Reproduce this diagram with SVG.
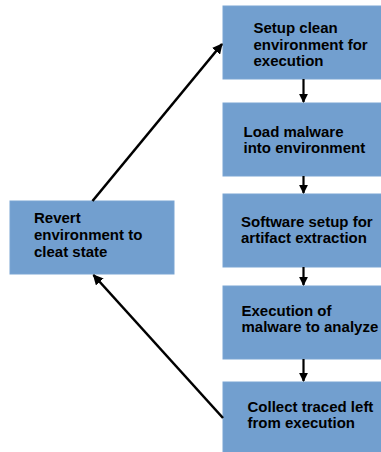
<svg xmlns="http://www.w3.org/2000/svg" width="381" height="452" viewBox="0 0 381 452">
  <style>
    .box { fill: #729fcf; stroke: #7aa5d3; stroke-width: 1; }
    .label { font-family: "Liberation Sans", Arial, sans-serif; font-weight: bold; font-size: 15px; fill: #000000; }
    .edge { fill: none; stroke: #000000; stroke-width: 2.6; }
    .step { fill: none; stroke: #000000; stroke-width: 2.2; }
  </style>
  <defs>
    <marker id="arrow" viewBox="0 0 10 10" refX="9" refY="5" markerWidth="4" markerHeight="4" orient="auto" markerUnits="strokeWidth">
      <path d="M0,0 L10,5 L0,10 Z" fill="#000000"/>
    </marker>
  </defs>

  <g id="setup">
    <rect class="box" x="223" y="6" width="160" height="73"/>
    <text class="label" x="253.5" y="33"><tspan x="253.5">Setup clean</tspan><tspan x="253.5" dy="16.5">environment for</tspan><tspan x="253.5" dy="16.5">execution</tspan></text>
  </g>

  <g id="load">
    <rect class="box" x="223" y="103" width="160" height="73"/>
    <text class="label" x="243.5" y="136.5"><tspan x="243.5">Load malware</tspan><tspan x="243.5" dy="16.3">into environment</tspan></text>
  </g>

  <g id="software">
    <rect class="box" x="223" y="194" width="160" height="73"/>
    <text class="label" x="241" y="226.5"><tspan x="241">Software setup for</tspan><tspan x="241" dy="16.3">artifact extraction</tspan></text>
  </g>

  <g id="execute">
    <rect class="box" x="223" y="286" width="160" height="73"/>
    <text class="label" x="241.5" y="315.7"><tspan x="241.5">Execution of</tspan><tspan x="241.5" dy="16">malware to analyze</tspan></text>
  </g>

  <g id="collect">
    <rect class="box" x="223" y="382" width="160" height="76"/>
    <text class="label" x="247.5" y="412.3"><tspan x="247.5">Collect traced left</tspan><tspan x="247.5" dy="16">from execution</tspan></text>
  </g>

  <g id="revert">
    <rect class="box" x="10" y="201" width="164" height="73"/>
    <text class="label" x="34" y="223.3"><tspan x="34">Revert</tspan><tspan x="34" dy="16.6">environment to</tspan><tspan x="34" dy="16.6">cleat state</tspan></text>
  </g>

  <g id="connectors">
    <line class="step" x1="303.5" y1="79" x2="303.5" y2="102" marker-end="url(#arrow)"/>
    <line class="step" x1="303.5" y1="176" x2="303.5" y2="193" marker-end="url(#arrow)"/>
    <line class="step" x1="303.5" y1="267" x2="303.5" y2="285" marker-end="url(#arrow)"/>
    <line class="step" x1="303.5" y1="359" x2="303.5" y2="381" marker-end="url(#arrow)"/>
    <line class="edge" x1="223" y1="418" x2="93.5" y2="275" marker-end="url(#arrow)"/>
    <line class="edge" x1="92.5" y1="201" x2="222" y2="44" marker-end="url(#arrow)"/>
  </g>
</svg>
